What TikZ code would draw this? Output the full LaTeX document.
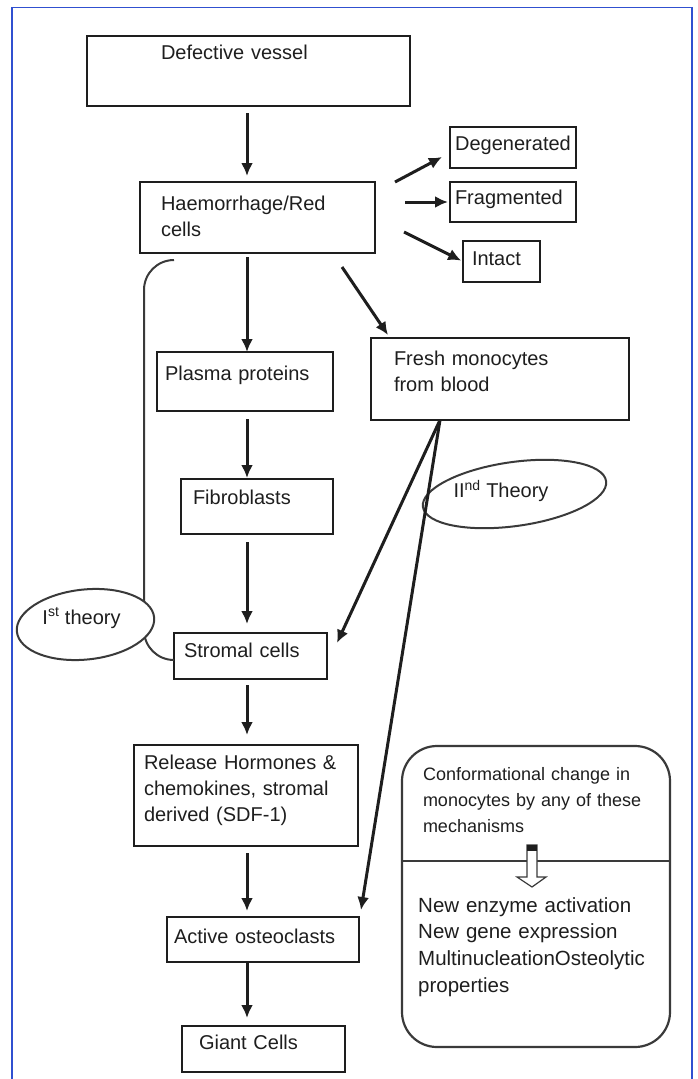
\documentclass[tikz,border=0pt]{standalone}
\usepackage{fontspec}
\setmainfont{Liberation Sans}
\usetikzlibrary{arrows.meta,shapes.geometric,calc}
\definecolor{marco}{HTML}{3050D0}
\definecolor{tinta}{HTML}{1E1E1E}
\definecolor{grisbrd}{HTML}{3A3A3A}
\newcommand{\boxfont}{\fontsize{20}{26}\selectfont}
\newcommand{\notefont}{\fontsize{18}{26}\selectfont}
\newcommand{\listfont}{\fontsize{20.5}{26.7}\selectfont}
\tikzset{
  cellbox/.style={draw=tinta,line width=2.6pt,rectangle,anchor=north west,align=left,
    inner ysep=0pt,outer sep=0pt,text=tinta,font=\boxfont},
  mechbox/.style={cellbox,draw=grisbrd,line width=2.2pt,rounded corners=35pt,font=\notefont},
  arrow/.style={-{Latex[length=13pt,width=12pt]},line width=3pt,draw=tinta},
  theoryoval/.style={draw=grisbrd,line width=2pt,ellipse,inner sep=0pt,outer sep=0pt},
  theoryword/.style={text=tinta,font=\boxfont,inner sep=0pt},
  bracket/.style={draw=grisbrd,line width=2pt},
  framebox/.style={draw=marco,line width=1.5pt}
}

\begin{document}
\begin{tikzpicture}[x=1pt,y=-1pt]
\useasboundingbox (0,0) rectangle (697,1079);
\draw[framebox] (12,1090) |- (692,7.5) -- (692,1090);

% main column
\node[cellbox,text width=175pt,inner xsep=74pt,text height=23pt,text depth=47pt] (vessel) at (87,36) {Defective vessel};
\node[cellbox,text width=193pt,inner xsep=21pt,text height=28pt,text depth=43pt] (haem) at (140,182) {Haemorrhage/Red\\cells};
\node[cellbox,text width=160pt,inner xsep=8pt,text height=28pt,text depth=31pt] (plasma) at (157,352) {Plasma proteins};
\node[cellbox,text width=128pt,inner xsep=12pt,text height=25pt,text depth=30pt] (fibro) at (181,479) {Fibroblasts};
\node[cellbox,text width=133pt,inner xsep=10pt,text height=24pt,text depth=22pt] (stromal) at (174,633) {Stromal cells};
\node[cellbox,text width=204pt,inner xsep=10pt,text height=24pt,text depth=77pt] (release) at (134,745) {Release Hormones \&\\chemokines, stromal\\derived (SDF-1)};
\node[cellbox,text width=178pt,inner xsep=7pt,text height=26pt,text depth=19pt] (osteo) at (167,917) {Active osteoclasts};
\node[cellbox,text width=129pt,inner xsep=17pt,text height=23pt,text depth=23pt] (giant) at (182,1026) {Giant Cells};

% red cell fates
\node[cellbox,align=center,text width=118pt,inner xsep=4pt,text height=23pt,text depth=18pt] (degen) at (450,127) {Degenerated};
\node[cellbox,text width=116pt,inner xsep=5pt,text height=22pt,text depth=18pt] (frag) at (450,182) {Fragmented};
\node[cellbox,text width=59pt,inner xsep=9pt,text height=24pt,text depth=17pt] (intact) at (463,241) {Intact};

% monocytes
\node[cellbox,text width=212pt,inner xsep=23pt,text height=27pt,text depth=55pt] (fresh) at (371,338) {Fresh monocytes\\from blood};
\node[mechbox,text width=226pt,inner xsep=21pt,text height=34pt,text depth=267pt] (mech) at (402,746) {Conformational change in\\monocytes by any of these\\mechanisms};
\node[anchor=base west,inner sep=0pt,text width=240pt,align=left,font=\listfont,text=tinta] (effects) at (418,912) {New enzyme activation\\New gene expression\\MultinucleationOsteolytic\\properties};
\draw[grisbrd,line width=1.8pt] ([yshift=-115pt]mech.north west) -- ([yshift=-115pt]mech.north east);
\draw[grisbrd,line width=1.2pt,fill=white] (527,845) -- (527,877) -- (517,877) -- (532,887) -- (546,877) -- (537,877) -- (537,845) -- cycle;
\fill[tinta] (527,845) rectangle (537,851);

% first theory
\draw[bracket] ([xshift=34pt,yshift=-7pt]haem.south west) to[out=180,in=90] ++(-30,30) -- ++(0,340) to[out=-90,in=180] ([yshift=-4pt]stromal.west);
\node[theoryoval,fill=white,rotate=6,minimum width=138pt,minimum height=70pt] (oval1) at (85.5,624.5) {};
\node[theoryword] (first) at (81.5,618) {I\textsuperscript{st} theory};

% second theory
\node[theoryoval,rotate=8,minimum width=185pt,minimum height=64pt] (oval2) at (514.5,494) {};
\node[theoryword] (second) at (501,491) {II\textsuperscript{nd} Theory};

% arrows
\coordinate (spine) at (247,0);
\draw[arrow,shorten <=7pt,shorten >=6pt] (vessel.south -| spine) -- (haem.north -| spine);
\draw[arrow,shorten <=4pt] (haem.south -| spine) -- (plasma.north -| spine);
\draw[arrow,shorten <=8pt,shorten >=1pt] (plasma.south -| spine) -- (fibro.north -| spine);
\draw[arrow,shorten <=8pt,shorten >=9pt] (fibro.south -| spine) -- (stromal.north -| spine);
\draw[arrow,shorten <=6pt,shorten >=10pt] (stromal.south -| spine) -- (release.north -| spine);
\draw[arrow,shorten <=7pt,shorten >=6pt] (release.south -| spine) -- (osteo.north -| spine);
\draw[arrow,shorten >=8pt] (osteo.south -| spine) -- (giant.north -| spine);
\draw[arrow] ([xshift=20pt]haem.north east) -- ([xshift=-8pt,yshift=-9.5pt]degen.west);
\draw[arrow,shorten >=2pt] (haem.east |- frag.west) ++(30pt,0) -- (frag.west);
\draw[arrow,shorten >=2pt] ([xshift=29pt,yshift=-14.5pt]haem.east) -- (intact.west);
\draw[arrow] ([xshift=-33pt,yshift=-14pt]haem.south east) -- ([xshift=17pt,yshift=3pt]fresh.north west);
\coordinate (fork) at ([xshift=69pt]fresh.south west);
\draw[arrow] (fork) -- ([xshift=10pt,yshift=13pt]stromal.east);
\draw[arrow] (fork) -- ([xshift=2pt,yshift=7pt]osteo.north east);
\end{tikzpicture}
\end{document}
